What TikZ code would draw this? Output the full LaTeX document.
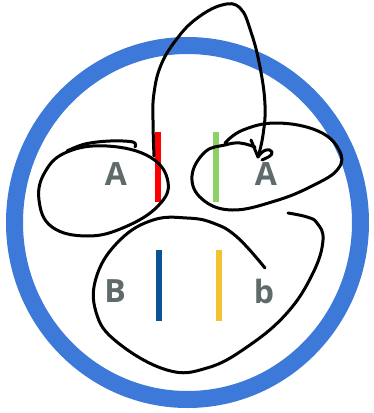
\documentclass[tikz,border=0pt]{standalone}
\usepackage{fontspec}
\setmainfont{Open Sans}
\usepackage{tikz}

\definecolor{ringblue}{RGB}{61,121,216}
\definecolor{barred}{RGB}{255,0,0}
\definecolor{bargreen}{RGB}{140,208,102}
\definecolor{barnavy}{RGB}{11,83,148}
\definecolor{baryellow}{RGB}{241,194,50}
\definecolor{labelgrey}{RGB}{95,106,106}

\tikzset{
  stroke/.style={line width=3pt,line cap=round,line join=round,black},
  bar/.style={line width=6pt},
  letter/.style={text=labelgrey,font=\fontsize{32}{36}\selectfont\bfseries,inner sep=0pt}
}

\begin{document}
\begin{tikzpicture}[x=1pt,y=1pt,yscale=-1,xscale=1]
\useasboundingbox (0,0) rectangle (373,413);

%Shape: Ring
\draw [ringblue,line width=17pt] (187.5,222.5) ellipse [x radius=173, y radius=177];

%Bars
\draw [bar,barred] (158,132) -- (158,202);
\draw [bar,bargreen] (215.5,132) -- (215.5,202);
\draw [bar,barnavy] (159,250) -- (159,321);
\draw [bar,baryellow] (218.5,250) -- (218.5,321);

% Text Node
\node [letter] (aleft) at (116,174) {A};
% Text Node
\node [letter] (aright) at (266,174) {A};
% Text Node
\node [letter] (bupper) at (115,291) {B};
% Text Node
\node [letter] (blower) at (264,291) {b};

%Loop: left
\draw [stroke] plot [smooth, tension=0.6] coordinates {(135,147) (133,142) (110,141) (85,144) (67,151)};
\draw [stroke] plot [smooth cycle, tension=0.7] coordinates {(67,152) (107,146) (150,157) (168,182) (158,206) (125,227) (88,236) (52,227) (39,200) (45,172)};

%Loop: right
\draw [stroke] plot [smooth, tension=0.7] coordinates {(255,147) (240,143) (225,145) (205,152) (192,176) (202,199) (232,210) (275,201) (312,186) (338,169) (339,150) (318,131) (277,123) (243,130) (225,143)};

%Loop: lower
\draw [stroke] plot [smooth, tension=0.7] coordinates {(265,268) (237,237) (213,223) (187,218) (153,220) (120,240) (97,275) (96,312) (117,342) (167,370) (207,368) (247,347) (287,313) (313,273) (323,240) (317,223) (307,217) (288,213)};

%Arrow
\coordinate (tip) at (258,157);
\draw [stroke] plot [smooth, tension=0.7] coordinates {(154,156) (153,120) (154,93) (161,65) (176,40) (196,19) (222,5) (240,8) (251,32) (260,67) (265,105) (263,135) (258,157)};
\draw [stroke] (251,140) -- (tip);
\draw [stroke] (tip) .. controls (263,149) and (270,148) .. (272,152) .. controls (273,156) and (266,158) .. (262,160);

\end{tikzpicture}
\end{document}
